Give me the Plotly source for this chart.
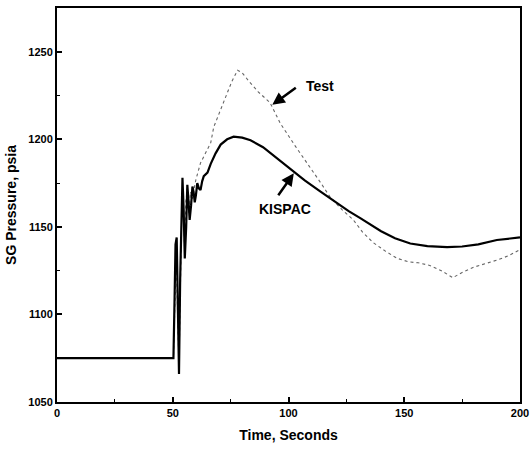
import plotly.graph_objects as go

# KISPAC (solid) series
kis_t = [0, 10, 20, 30, 40, 50.3, 50.8, 51.2, 51.7, 52.2, 52.7, 53.2, 53.7, 54.2, 54.7, 55.2, 55.8, 56.3, 56.8, 57.3, 57.9, 58.5, 59.0, 59.5, 60.0, 60.6, 61.3, 62.0, 62.7, 63.4, 65.0, 66.4, 68.5, 70.7, 73.5, 76.3, 80.0, 83.6, 89.0, 95.0, 101.0, 107.0, 114.0, 120.0, 126.0, 131.0, 135.0, 140.0, 146.0, 152.6, 160.0, 168.5, 175.0, 182.0, 190.0, 195.0, 200.0]
kis_p = [1075, 1075, 1075, 1075, 1075, 1075, 1110, 1140, 1144, 1090, 1066, 1120, 1150, 1178, 1160, 1132, 1150, 1174, 1165, 1154, 1162, 1173, 1170, 1164, 1168, 1175, 1172, 1171, 1176, 1179, 1181, 1186, 1192, 1197, 1200, 1201.5, 1201, 1199.5, 1195.5, 1189, 1182.5, 1176.5, 1170, 1164.5, 1159, 1155, 1151.5, 1147.5, 1143.5, 1140.5, 1139, 1138.5, 1138.8, 1140, 1142.5, 1143.3, 1144]

# Test (dotted) series
test_t = [0, 10, 20, 30, 40, 50.3, 50.9, 51.5, 52.1, 52.7, 53.3, 53.9, 54.5, 55.1, 55.7, 56.3, 57.0, 57.7, 58.4, 59.2, 60.0, 62.0, 63.4, 65.0, 66.4, 67.7, 70.7, 73.0, 75.5, 78.0, 80.0, 83.0, 87.0, 92.0, 96.5, 103.0, 109.5, 114.0, 118.0, 123.0, 128.0, 132.0, 136.6, 142.0, 147.0, 152.0, 156.0, 161.0, 166.0, 171.0, 175.0, 180.0, 185.0, 190.0, 195.0, 198.7, 200.0]
test_p = [1075, 1075, 1075, 1075, 1075, 1075, 1105, 1135, 1100, 1070, 1115, 1160, 1170, 1138, 1165, 1172, 1158, 1170, 1166, 1172, 1177, 1186.5, 1190, 1194, 1198, 1207, 1217, 1225, 1233, 1239.5, 1238, 1233, 1227, 1221, 1209, 1196, 1184, 1175, 1167, 1160, 1154, 1147, 1141, 1136, 1132, 1130, 1129.5, 1128, 1125, 1121, 1124, 1127, 1129, 1131, 1133.5, 1136, 1137]

x_ticks = [0, 50, 100, 150, 200]
y_ticks = [1050, 1100, 1150, 1200, 1250]

fig = go.Figure()
fig.add_trace(go.Scatter(x=test_t, y=test_p, mode="lines", name="Test",
                         line=dict(color="#666666", width=1.1, dash="dot")))
fig.add_trace(go.Scatter(x=kis_t, y=kis_p, mode="lines", name="KISPAC",
                         line=dict(color="black", width=2.2)))

fig.add_annotation(x=93, y=1219.7, ax=296.7 - 271.7, ay=86.7 - 105, axref="pixel", ayref="pixel",
                   showarrow=True, arrowhead=2, arrowsize=1, arrowwidth=2.5, arrowcolor="black", text="")
fig.add_annotation(x=113.5, y=1230.6, text="Test", showarrow=False,
                   font=dict(family="Liberation Sans, Arial", size=14, color="black", weight="bold"))
fig.add_annotation(x=102.3, y=1180.6, ax=276.7 - 293.3, ay=196.7 - 173.3, axref="pixel", ayref="pixel",
                   showarrow=True, arrowhead=2, arrowsize=1, arrowwidth=2.5, arrowcolor="black", text="")
fig.add_annotation(x=98.7, y=1160.5, text="KISPAC", showarrow=False,
                   font=dict(family="Liberation Sans, Arial", size=14, color="black", weight="bold"))

axis_common = dict(showline=True, linecolor="black", linewidth=2, mirror=True,
                   ticks="inside", ticklen=5, tickwidth=1.5, tickcolor="black",
                   showgrid=False, zeroline=False, automargin=False,
                   tickfont=dict(family="Liberation Sans, Arial", size=11, color="black", weight="bold"),
                   minor=dict(ticks="inside", ticklen=3, tickwidth=1, tickcolor="black", showgrid=False))

fig.update_xaxes(range=[0, 200], tickvals=x_ticks, ticktext=[str(v) for v in x_ticks],
                 minor_dtick=25,
                 title=dict(text="Time, Seconds", standoff=12,
                            font=dict(family="Liberation Sans, Arial", size=14, color="black", weight="bold")),
                 **axis_common)
fig.update_yaxes(range=[1050, 1275], tickvals=y_ticks, ticktext=[str(v) for v in y_ticks],
                 minor_dtick=25, minor_tick0=1050,
                 title=dict(text="SG Pressure, psia", standoff=8,
                            font=dict(family="Liberation Sans, Arial", size=14, color="black", weight="bold")),
                 **axis_common)

fig.update_layout(width=531, height=451, margin=dict(l=57, r=11, t=8, b=49),
                  plot_bgcolor="white", paper_bgcolor="white", showlegend=False)

fig.write_html("out.html")
